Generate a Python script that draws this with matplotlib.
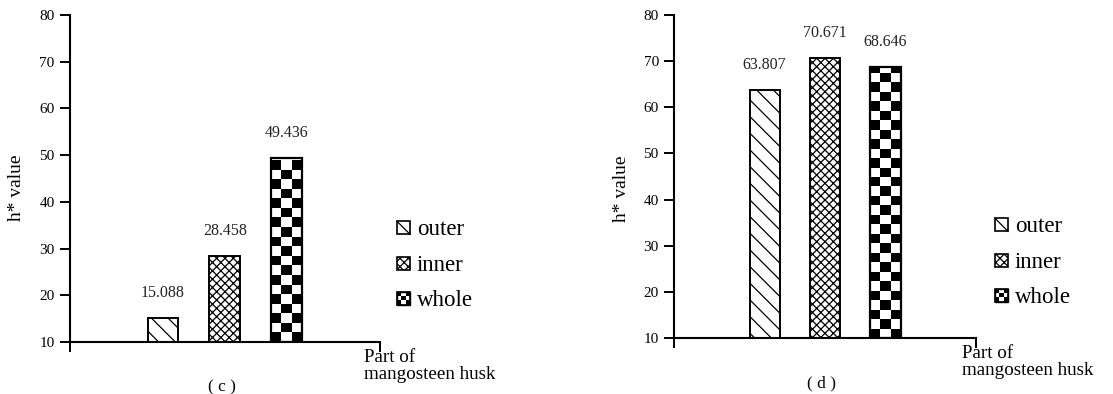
import numpy as np
import matplotlib
matplotlib.use("Agg")
import matplotlib.pyplot as plt
from matplotlib.patches import Patch, Rectangle
from matplotlib.lines import Line2D
from matplotlib.legend_handler import HandlerBase

plt.rcParams['font.family'] = ['Liberation Serif', 'DejaVu Serif']
plt.rcParams['hatch.linewidth'] = 0.9

parts = ["outer", "inner", "whole"]
values_c = [15.088, 28.458, 49.436]
values_d = [63.807, 70.671, 68.646]
panel_tags = ["( c )", "( d )"]
y_ticks = [10, 20, 30, 40, 50, 60, 70, 80]

hatches = ["\\\\", "xxxx", None]
offsets = [-0.2, 0.0, 0.2]
bar_w = 0.1
y0 = 10
cell_h = 2.05   # checker row height in data units


def checker(nrows, ncols):
    return (np.add.outer(np.arange(nrows), np.arange(ncols)) % 2 == 0).astype(float)


class CheckerHandler(HandlerBase):
    # small 3x3 checker square for the legend
    def create_artists(self, legend, orig_handle, xdescent, ydescent,
                       width, height, fontsize, trans):
        side = min(width, height)
        x = -xdescent
        y = -ydescent
        cell = side / 3.0
        arts = [Rectangle((x, y), side, side, facecolor="white",
                          edgecolor="black", lw=1.0, transform=trans)]
        for i in range(3):
            for j in range(3):
                if (i + j) % 2 == 0:
                    arts.append(Rectangle((x + j * cell, y + i * cell), cell, cell,
                                          facecolor="black", edgecolor="none",
                                          transform=trans))
        arts.append(Rectangle((x, y), side, side, facecolor="none",
                              edgecolor="black", lw=1.2, transform=trans))
        return arts


class SquareHandler(HandlerBase):
    # hatched square; "\\" is drawn as a single diagonal
    def create_artists(self, legend, orig_handle, xdescent, ydescent,
                       width, height, fontsize, trans):
        side = min(width, height)
        x = -xdescent
        y = -ydescent
        h = orig_handle.get_hatch()
        if h == "\\":
            r = Rectangle((x, y), side, side, facecolor="white",
                          edgecolor="black", lw=1.2, transform=trans)
            ln = Line2D([x, x + side], [y + side, y], color="black", lw=0.9,
                        transform=trans)
            return [r, ln]
        r = Rectangle((x, y), side, side, facecolor="white",
                      edgecolor="black", lw=1.2, hatch=h, transform=trans)
        return [r]


def draw_panel(ax, values, tag, ylabel_pos, part_x, leg_x):
    for k, v in enumerate(values):
        x = offsets[k]
        bar = ax.bar(x, v - y0, bottom=y0, width=bar_w, facecolor="white",
                     edgecolor="black", linewidth=1.4, hatch=hatches[k], zorder=2)[0]
        if hatches[k] is None:
            nrows = int(round((v - y0) / cell_h))
            img = ax.imshow(checker(nrows, 3), cmap="gray_r", vmin=0, vmax=1,
                            extent=(x - bar_w / 2, x + bar_w / 2, y0, y0 + nrows * cell_h),
                            origin="lower", aspect="auto", interpolation="nearest",
                            zorder=2.5)
            img.set_clip_path(bar)
            ax.bar(x, v - y0, bottom=y0, width=bar_w, facecolor="none",
                   edgecolor="black", linewidth=1.6, zorder=3)
        ax.annotate(f"{v:.3f}", (x, v), xytext=(0, 18), textcoords="offset points",
                    ha="center", va="center", fontsize=11.5, color="#222222")

    ax.set_xlim(-0.5, 0.5)
    ax.set_ylim(10, 80)
    ax.set_yticks(y_ticks)
    ax.set_xticks([-0.5, 0.5])
    ax.set_xticklabels([])
    ax.tick_params(axis="y", direction="out", length=7, width=1.4, labelsize=11, pad=4)
    ax.tick_params(axis="x", direction="out", length=7, width=1.4)
    for s in ["top", "right"]:
        ax.spines[s].set_visible(False)
    for s in ["left", "bottom"]:
        ax.spines[s].set_linewidth(1.5)
    ax.spines["bottom"].set_zorder(4)

    ax.set_ylabel("h* value", fontsize=14)
    ax.yaxis.set_label_coords(*ylabel_pos)

    ax.text(part_x, -0.02, "Part of\nmangosteen husk", transform=ax.transAxes,
            ha="left", va="top", fontsize=13.7, linespacing=1.0)
    ax.text(0.49, -0.14, tag, transform=ax.transAxes, ha="center", va="center",
            fontsize=12.5)

    handles = [Patch(facecolor="white", edgecolor="black", hatch="\\"),
               Patch(facecolor="white", edgecolor="black", hatch="xxxx"),
               Patch(facecolor="white", edgecolor="black")]
    ax.legend(handles, parts, loc="center left", bbox_to_anchor=(leg_x, 0.235),
              frameon=False, fontsize=16.5, handlelength=0.57, handleheight=0.57,
              handletextpad=0.3, labelspacing=0.62, borderpad=0, borderaxespad=0,
              handler_map={handles[0]: SquareHandler(),
                           handles[1]: SquareHandler(),
                           handles[2]: CheckerHandler()})


fig = plt.figure(figsize=(11.13, 3.94), dpi=100)
ax_c = fig.add_axes([0.0629, 0.132, 0.2785, 0.830])
ax_d = fig.add_axes([0.6056, 0.142, 0.2713, 0.820])

draw_panel(ax_c, values_c, panel_tags[0], (-0.145, 0.471), 0.948, 1.055)
draw_panel(ax_d, values_d, panel_tags[1], (-0.146, 0.461), 0.954, 1.063)

fig.savefig("out.png", dpi=100)
